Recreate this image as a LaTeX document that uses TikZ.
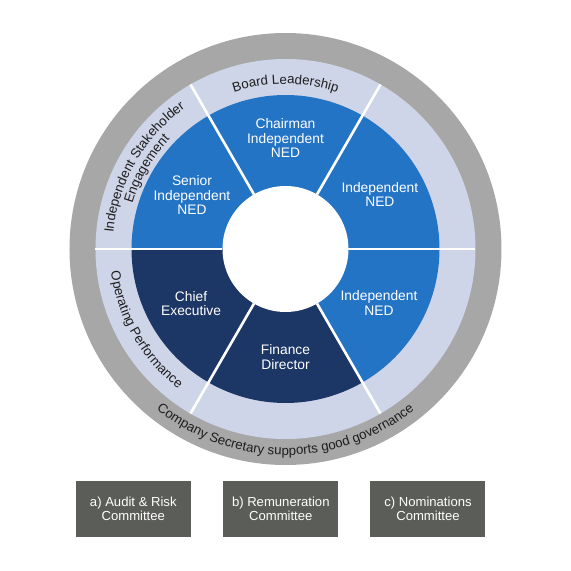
\documentclass[tikz,border=0pt]{standalone}
\usepackage{fontspec}
\setmainfont{Liberation Sans}
\usetikzlibrary{decorations.text}
\definecolor{ringgrey}{HTML}{A7A7A7}
\definecolor{lavender}{HTML}{CFD5E8}
\definecolor{midblue}{HTML}{2474C6}
\definecolor{navy}{HTML}{1C3666}
\definecolor{slate}{HTML}{5B5D58}
\definecolor{ink}{HTML}{1E1E1E}
\newcommand{\ringfont}{\fontsize{13.3}{14}\selectfont}
\tikzset{
  seglabel/.style={font=\fontsize{13.8}{14.2}\selectfont, text=white, align=center},
  committee/.style={fill=slate, text=white, align=center, inner sep=0pt,
                    minimum width=115pt, minimum height=56pt,
                    font=\fontsize{13.1}{13.4}\selectfont},
  divider/.style={draw=white, line width=2.6pt},
  ringtext/.style={decorate, decoration={text along path, text align=center,
                   text color=ink, text={|\ringfont|#1}}},
}

\begin{document}
\begin{tikzpicture}[x=1pt, y=1pt]
  \useasboundingbox (-285.5,-322) rectangle (285.5,249);

  % rings
  \fill[ringgrey] (0,0) circle[radius=216pt];
  \fill[lavender] (0,0) circle[radius=190pt];
  \foreach \a/\col in {0/midblue,60/midblue,120/midblue,180/navy,240/navy,300/midblue}
    \fill[\col] (0,0) -- (\a:154) arc[start angle=\a, end angle=\a+60, radius=154pt] -- cycle;
  \fill[white] (0,0) circle[radius=63pt];
  \foreach \a in {0,60,...,300}
    \draw[divider] (\a:63) -- (\a:190);

  % board members
  \node[seglabel] (indA)   at (30:109)  {Independent\\NED};
  \node[seglabel] (chair)  at (90:111)  {Chairman\\Independent\\NED};
  \node[seglabel] (senior) at (150:108) {Senior\\Independent\\NED};
  \node[seglabel] (ceo)    at (210:109) {Chief\\Executive};
  \node[seglabel] (fd)     at (270:108) {Finance\\Director};
  \node[seglabel] (indB)   at (330:108) {Independent\\NED};

  % text round the rings
  \path[ringtext={Board Leadership}] (135:165) arc[start angle=135, end angle=45, radius=165pt];
  \path[ringtext={Independent Stakeholder}] (205:173) arc[start angle=205, end angle=95, radius=173pt];
  \path[ringtext={Engagement}] (205:159.5) arc[start angle=205, end angle=95, radius=159.5pt];
  \path[ringtext={Operating Performance}] (155:176) arc[start angle=155, end angle=265, radius=176pt];
  \path[ringtext={Company Secretary supports good governance}] (200:206) arc[start angle=200, end angle=340, radius=206pt];

  % committees
  \node[committee] (audit) at (-152.2,-259.8) {a) Audit \& Risk\\Committee};
  \node[committee] (remun) at (-4.7,-259.8)   {b) Remuneration\\Committee};
  \node[committee] (nomin) at (142.5,-259.8)  {c) Nominations\\Committee};
\end{tikzpicture}
\end{document}
